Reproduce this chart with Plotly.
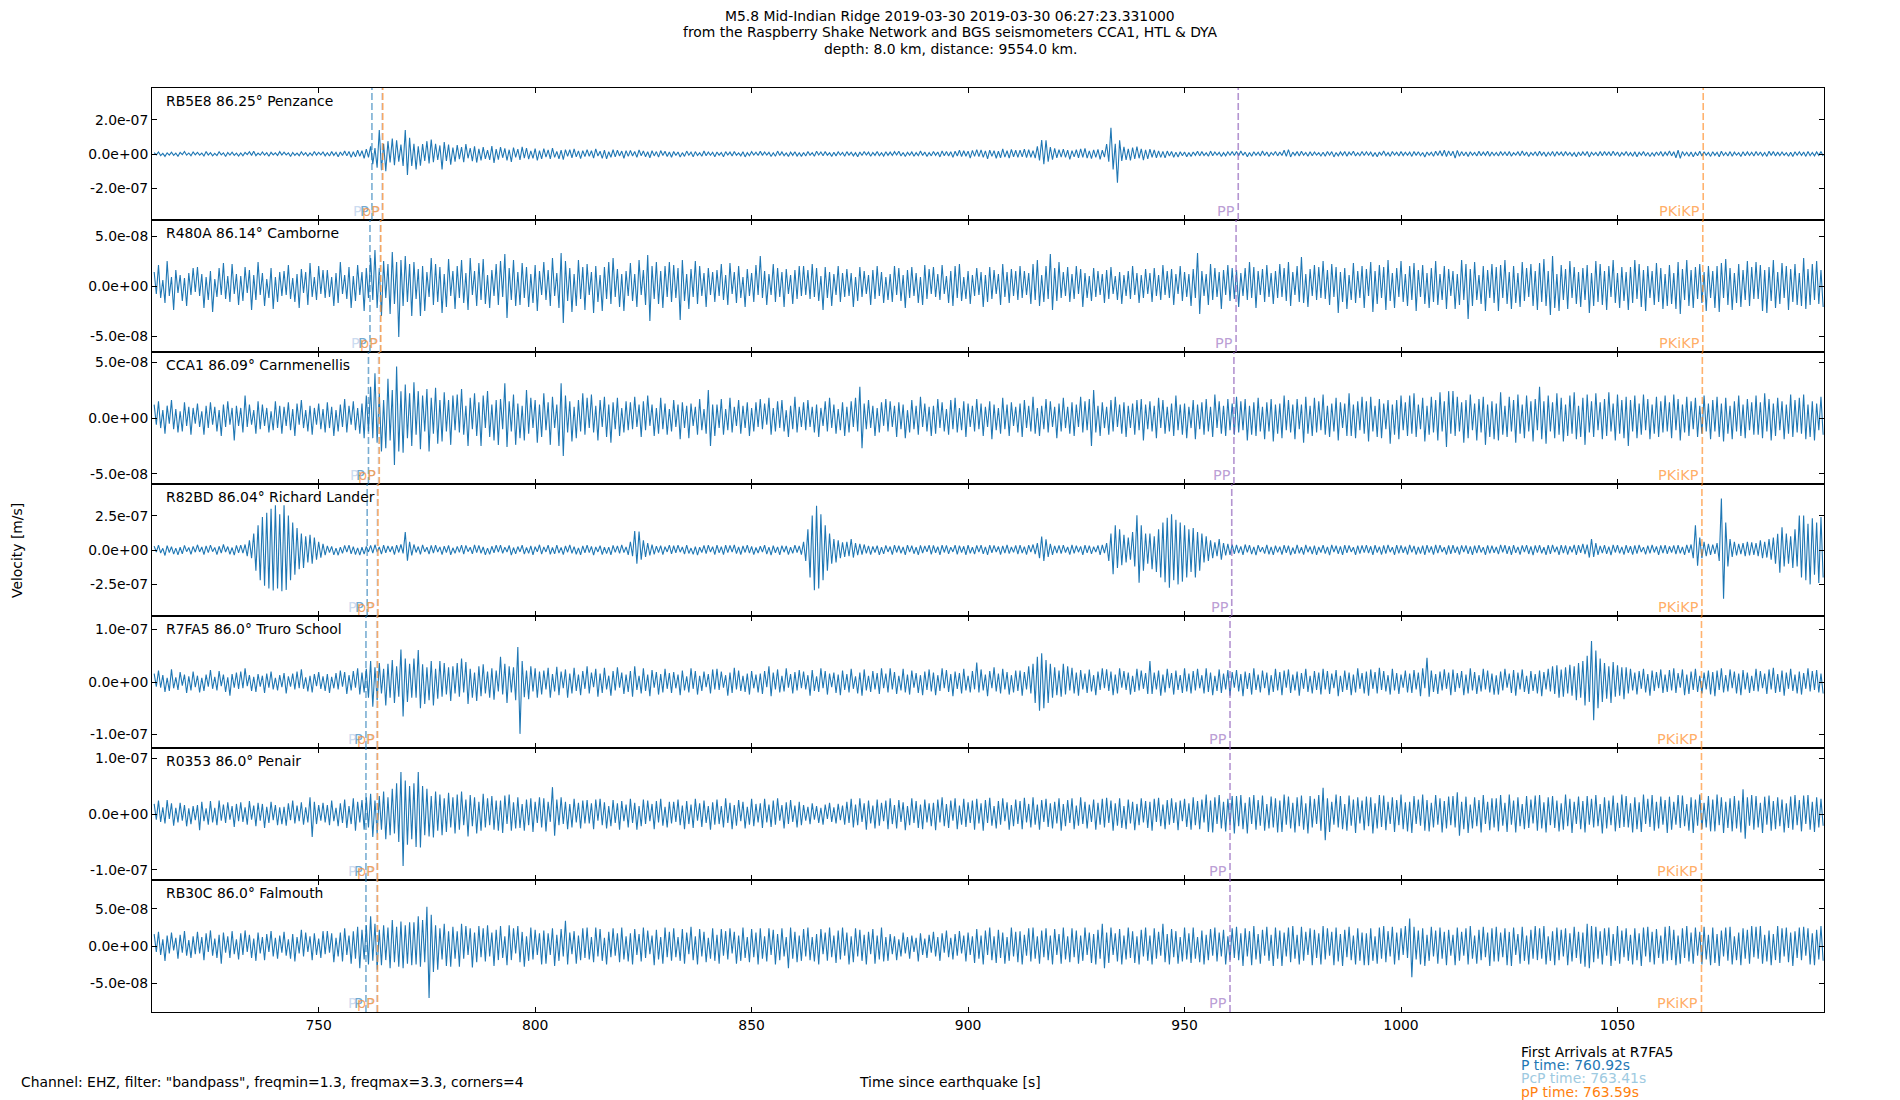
import plotly.graph_objects as go
from plotly.subplots import make_subplots

# ---------------- data ----------------
T0 = 712.0          # time of first sample [s]
DT = 0.5            # sample step [s]
NM = 1e-9           # values below are in nm/s

STATIONS = ["RB5E8 86.25° Penzance", "R480A 86.14° Camborne", "CCA1 86.09° Carnmenellis",
            "R82BD 86.04° Richard Lander", "R7FA5 86.0° Truro School", "R0353 86.0° Penair",
            "RB30C 86.0° Falmouth"]

RB5E8 = [
    8,-5,12,-9,4,-14,7,-6,11,-8,5,-13,9,-4,15,-7,6,-10,12,-5,
    10,-7,5,-12,14,-6,8,-11,4,-9,13,-5,7,-15,9,-6,11,-8,5,-12,
    6,-11,9,-4,13,-8,16,-10,5,-7,12,-6,8,-13,10,-5,7,-9,14,-6,
    11,-5,7,-14,9,-8,5,-10,13,-6,8,-12,6,-9,15,-7,10,-5,12,-11,
    7,-12,14,-8,10,-16,12,-9,18,-11,15,-20,13,-17,22,-14,19,-25,28,-20,
    45,-60,35,-80,140,-95,60,-100,75,-50,90,-65,80,-45,55,-70,140,-122,95,-70,
    60,-90,45,-68,58,-40,75,-55,85,-48,60,-35,50,-90,70,-40,55,-62,38,-45,
    52,-30,40,-48,58,-25,35,-42,45,-50,30,-38,40,-28,22,-35,46,-52,28,-33,
    40,-22,33,-38,25,-46,38,-20,28,-34,42,-24,35,-30,18,-26,32,-38,20,-28,
    32,-18,24,-29,35,-20,15,-28,22,-33,26,-14,25,-22,30,-17,18,-27,20,-15,
    26,-14,19,-24,30,-12,16,-26,22,-28,13,-19,25,-17,22,-12,17,-25,20,-14,
    21,-12,15,-20,24,-10,18,-16,13,-22,19,-11,14,-18,20,-9,16,-15,12,-19,
    15,-9,12,-18,8,-14,17,-7,11,-16,14,-9,7,-13,18,-10,12,-8,10,-16,
    12,-7,9,-16,14,-6,11,-12,15,-8,6,-11,13,-17,8,-10,14,-6,11,-9,
    16,-8,12,-6,10,-15,7,-13,17,-9,12,-10,6,-14,11,-8,13,-12,7,-14,
    9,-12,15,-7,8,-13,16,-6,12,-10,14,-8,7,-14,10,-11,13,-6,9,-13,
    14,-7,10,-11,8,-16,12,-9,15,-6,11,-13,9,-8,15,-10,7,-12,13,-8,
    11,-9,14,-6,16,-12,9,-15,10,-7,12,-13,8,-10,17,-9,11,-14,9,-11,
    15,-8,12,-17,18,-10,14,-11,13,-20,16,-12,22,-15,19,-13,17,-24,21,-14,
    26,-15,24,-20,18,-28,22,-14,20,-25,16,-22,30,-18,19,-24,27,-16,22,-20,
    23,-17,29,-21,25,-19,20,-24,45,-38,82,-60,80,-45,40,-33,33,-22,26,-18,
    28,-20,22,-31,20,-17,25,-22,30,-19,33,-24,18,-27,24,-20,27,-31,22,-18,
    58,-45,154,-90,60,-168,80,-40,42,-35,30,-38,38,-28,44,-25,30,-36,24,-28,
    28,-19,24,-22,18,-20,15,-23,17,-12,15,-19,11,-18,13,-10,12,-16,9,-14,
    12,-8,16,-11,14,-9,7,-13,17,-10,12,-6,10,-15,8,-11,13,-7,14,-9,
    15,-10,18,-8,11,-16,9,-13,13,-7,10,-12,18,-9,12,-14,9,-6,15,-11,
    12,-9,22,-14,26,-17,11,-8,14,-12,16,-7,9,-13,13,-10,12,-6,8,-12,
    10,-13,15,-7,14,-17,9,-11,12,-8,15,-13,11,-6,16,-12,8,-10,14,-9,
    13,-7,11,-14,9,-16,12,-8,17,-10,8,-14,15,-6,10,-12,15,-9,11,-7,
    11,-14,15,-8,13,-10,9,-17,12,-7,10,-13,16,-9,19,-12,22,-15,18,-11,
    16,-24,21,-13,14,-10,12,-15,13,-7,9,-12,16,-10,11,-8,16,-13,12,-9,
    9,-12,14,-7,12,-10,15,-13,8,-6,13,-11,17,-9,11,-14,9,-7,13,-12,
    16,-8,12,-15,10,-9,15,-13,14,-6,11,-12,14,-8,9,-11,8,-16,12,-10,
    12,-9,15,-17,10,-7,9,-12,14,-10,15,-8,13,-11,16,-9,12,-14,9,-7,
    14,-10,8,-13,13,-16,10,-7,14,-12,9,-15,7,-11,12,-9,15,-13,11,-8,
    17,-11,13,-22,22,-26,14,-9,10,-13,12,-16,9,-10,16,-12,13,-7,9,-14,
    13,-8,10,-16,16,-9,9,-12,14,-13,11,-7,8,-15,13,-10,12,-9,10,-12,
    15,-9,12,-11,9,-14,16,-8,14,-12,11,-10,12,-8,8,-13,10,-15,13,-7,
    13,-9,11,-14,15,-10,9,-11,12,-8,14,-11]

R480A = [
    14,-8,21,-12,6,-17,25,-10,9,-24,16,-7,11,-15,8,-20,13,-9,18,-6,
    19,-10,12,-22,9,-14,15,-26,7,-11,18,-9,23,-13,10,-16,22,-8,12,-19,
    10,-15,19,-7,16,-24,11,-14,24,-9,13,-20,7,-12,18,-23,9,-16,14,-10,
    15,-9,21,-13,8,-16,12,-22,17,-7,14,-19,23,-11,9,-14,20,-8,16,-12,
    16,-11,9,-20,13,-17,24,-8,11,-13,19,-22,10,-15,21,-9,14,-25,18,-12,
    28,-14,36,-22,18,-30,25,-12,22,-28,34,-18,24,-51,26,-20,30,-16,22,-30,
    24,-13,17,-30,20,-25,14,-11,28,-19,22,-16,19,-27,12,-21,27,-10,15,-23,
    20,-12,26,-17,13,-24,28,-9,15,-20,23,-14,27,-18,11,-22,16,-10,22,-19,
    25,-11,32,-32,18,-14,26,-20,14,-19,23,-12,19,-21,12,-17,21,-25,15,-9,
    24,-14,16,-20,28,-10,13,-22,33,-37,25,-15,18,-26,12,-20,26,-13,19,-24,
    22,-9,14,-27,20,-16,11,-25,19,-13,24,-18,28,-11,17,-21,12,-25,15,-10,
    23,-15,12,-21,26,-9,16,-19,31,-35,20,-13,24,-18,15,-22,20,-11,24,-16,
    21,-12,18,-34,26,-15,12,-23,17,-11,25,-18,20,-10,13,-21,18,-9,14,-16,
    16,-10,22,-14,11,-19,23,-8,14,-17,20,-12,9,-21,17,-10,13,-16,21,-9,
    30,-12,15,-19,12,-9,22,-16,18,-11,14,-21,17,-8,11,-18,16,-13,20,-10,
    20,-9,16,-13,22,-11,18,-15,10,-24,19,-12,14,-20,12,-9,20,-16,13,-11,
    17,-10,13,-21,9,-15,19,-11,15,-8,11,-19,16,-13,20,-10,14,-17,9,-14,
    12,-16,20,-9,18,-15,11,-22,16,-12,19,-10,13,-17,9,-19,21,-13,17,-8,
    19,-11,12,-14,21,-8,10,-17,15,-20,20,-12,22,-15,9,-13,15,-18,11,-10,
    18,-9,14,-21,11,-16,19,-13,16,-8,12,-19,22,-11,14,-17,17,-10,15,-14,
    20,-12,15,-9,13,-18,22,-14,26,-20,11,-16,20,-13,32,-24,18,-15,24,-12,
    14,-10,19,-16,12,-13,20,-8,17,-21,13,-12,10,-15,18,-11,15,-9,12,-17,
    16,-13,19,-8,10,-14,14,-18,11,-10,15,-13,20,-9,13,-17,11,-12,17,-8,
    13,-16,18,-10,11,-14,21,-9,15,-12,17,-19,12,-8,20,-15,14,-11,12,-20,
    17,-12,33,-28,15,-10,12,-19,22,-14,18,-11,14,-23,16,-9,21,-15,18,-13,
    16,-21,13,-10,18,-14,24,-12,19,-22,15,-9,17,-16,21,-11,13,-18,15,-12,
    22,-11,18,-15,24,-20,14,-9,20,-16,29,-17,12,-21,17,-10,21,-14,19,-12,
    25,-13,16,-19,22,-11,19,-27,14,-16,18,-23,11,-14,23,-17,15,-12,20,-22,
    17,-10,24,-26,15,-18,21,-12,19,-24,26,-15,13,-22,18,-11,25,-16,12,-20,
    20,-14,23,-25,16,-11,21,-18,13,-22,18,-16,25,-19,12,-14,20,-23,17,-10,
    15,-23,12,-19,26,-14,22,-33,17,-20,24,-14,11,-18,20,-25,16,-12,22,-17,
    19,-25,21,-12,26,-18,14,-23,20,-17,13,-21,24,-15,18,-11,22,-20,15,-24,
    23,-16,27,-20,15,-29,30,-22,12,-25,21,-14,17,-23,25,-12,19,-18,14,-21,
    18,-14,21,-27,13,-20,25,-16,22,-19,15,-24,20,-11,26,-17,13,-22,19,-15,
    14,-24,19,-17,26,-13,22,-21,16,-25,20,-12,15,-19,23,-16,18,-23,12,-20,
    21,-18,13,-23,24,-28,17,-14,26,-20,16,-22,19,-13,22,-17,14,-25,20,-12,
    15,-22,20,-26,23,-12,27,-19,18,-24,13,-17,22,-21,16,-14,25,-20,19,-13,
    24,-13,21,-25,16,-27,19,-15,26,-22,14,-18,23,-12,20,-24,17,-16,22,-19,
    13,-20,28,-23,17,-19,22,-14,25,-18,16,-21]

CCA1 = [
    12,-6,15,-9,7,-14,11,-5,16,-10,8,-13,6,-12,14,-7,10,-15,9,-5,
    13,-8,6,-15,11,-9,14,-6,10,-12,7,-16,12,-8,15,-6,9,-20,11,-7,
    9,-13,20,-8,12,-6,7,-14,15,-10,12,-7,9,-13,6,-11,15,-9,11,-14,
    10,-7,14,-11,8,-16,13,-6,16,-9,7,-12,11,-15,9,-6,13,-10,8,-13,
    14,-9,10,-16,7,-12,12,-8,17,-13,11,-6,15,-11,9,-14,13,-18,20,-12,
    28,-18,40,-22,22,-30,16,-27,35,-20,25,-42,46,-30,24,-31,30,-18,22,-25,
    32,-15,24,-28,20,-12,26,-30,18,-14,27,-23,16,-21,23,-12,16,-24,20,-11,
    21,-13,26,-15,11,-25,18,-10,22,-16,14,-25,20,-9,24,-17,12,-20,16,-24,
    17,-10,31,-26,15,-12,21,-24,13,-18,11,-20,25,-14,18,-9,16,-22,12,-17,
    22,-11,14,-24,19,-9,12,-25,31,-34,20,-13,15,-21,10,-18,16,-12,22,-15,
    18,-9,21,-13,11,-20,16,-8,19,-17,12,-22,14,-10,18,-16,9,-13,15,-11,
    14,-10,19,-8,12,-17,15,-11,20,-7,12,-16,9,-14,18,-10,13,-15,8,-12,
    16,-8,12,-19,14,-9,11,-18,13,-7,10,-15,17,-11,8,-14,25,-25,12,-16,
    12,-9,17,-15,8,-11,18,-13,10,-7,16,-14,11,-9,14,-16,9,-12,14,-8,
    17,-10,13,-6,18,-15,9,-12,15,-9,16,-12,7,-17,11,-10,19,-13,10,-8,
    14,-11,16,-8,10,-13,12,-17,9,-7,15,-12,18,-9,12,-14,8,-11,14,-16,
    10,-13,15,-8,18,-12,28,-27,13,-10,16,-9,11,-16,9,-13,14,-7,17,-12,
    15,-8,11,-17,14,-10,12,-18,7,-13,16,-10,11,-15,19,-8,13,-12,10,-16,
    11,-14,17,-9,14,-12,8,-15,16,-10,18,-13,9,-11,15,-17,13,-8,11,-12,
    17,-10,13,-16,10,-8,15,-19,12,-11,9,-14,18,-10,12,-16,14,-7,10,-13,
    13,-17,16,-9,11,-12,19,-14,9,-16,11,-10,17,-13,15,-8,10,-18,13,-12,
    18,-9,10,-14,14,-16,12,-8,19,-13,15,-11,17,-25,25,-13,11,-16,14,-9,
    10,-15,16,-12,19,-8,12,-14,14,-17,11,-9,13,-15,16,-11,17,-20,12,-10,
    15,-12,11,-18,18,-9,16,-14,10,-12,13,-16,20,-11,12,-15,13,-18,10,-9,
    16,-19,12,-10,14,-15,17,-12,10,-17,21,-9,15,-14,11,-16,17,-11,13,-15,
    19,-13,15,-11,17,-20,11,-15,14,-16,18,-12,10,-19,14,-12,17,-21,12,-14,
    13,-18,20,-11,16,-13,12,-19,17,-10,12,-22,19,-14,11,-16,18,-13,15,-11,
    21,-15,11,-17,13,-12,18,-20,14,-9,13,-16,22,-16,12,-18,15,-11,19,-14,
    15,-21,19,-12,11,-17,17,-18,13,-10,16,-23,12,-15,16,-19,20,-11,14,-16,
    20,-14,22,-17,12,-10,18,-21,11,-15,19,-13,16,-20,23,-12,15,-26,24,-14,
    24,-16,19,-12,14,-22,16,-18,21,-11,13,-20,17,-13,19,-24,12,-17,15,-19,
    13,-20,23,-15,11,-17,19,-12,16,-22,21,-14,12,-18,20,-12,15,-21,17,-11,
    28,-19,15,-23,20,-12,14,-18,22,-15,18,-21,12,-16,20,-14,23,-19,11,-17,
    18,-24,21,-13,15,-17,22,-11,14,-19,17,-16,23,-12,13,-20,21,-14,16,-18,
    19,-25,16,-12,20,-18,13,-15,21,-11,17,-19,12,-14,19,-17,15,-13,20,-12,
    14,-18,21,-11,17,-20,12,-13,19,-16,15,-10,18,-17,11,-14,20,-12,13,-19,
    16,-12,19,-17,13,-21,18,-14,11,-19,15,-12,20,-16,12,-18,17,-11,14,-15,
    20,-15,14,-18,22,-12,17,-20,13,-16,18,-11,15,-19,12,-14,21,-17,16,-13,
    18,-14,21,-19,12,-17,15,-20,13,-11,19,-15]

R82BD = [
    28,-15,35,-22,12,-40,32,-18,24,-30,14,-36,20,-28,34,-12,18,-32,26,-16,
    38,-14,22,-33,30,-19,36,-12,19,-34,27,-22,40,-15,25,-31,18,-38,33,-20,
    35,-22,40,-45,70,-60,120,-150,180,-220,240,-260,270,-280,300,-294,326,-280,260,-300,
    326,-290,250,-220,200,-180,160,-140,120,-130,100,-90,110,-100,90,-70,60,-55,45,-38,
    30,-18,26,-35,14,-38,21,-24,34,-16,36,-28,24,-33,15,-37,20,-30,26,-14,
    34,-22,38,-15,22,-30,36,-20,30,-14,27,-33,35,-18,40,-25,130,-78,60,-40,
    40,-18,25,-32,37,-14,20,-30,34,-22,36,-15,23,-33,28,-18,33,-35,16,-24,
    26,-17,36,-30,34,-12,20,-28,38,-19,33,-24,22,-35,14,-32,27,-20,35,-16,
    36,-24,21,-15,33,-37,18,-28,25,-14,35,-30,19,-24,30,-36,24,-13,38,-30,
    23,-14,36,-31,18,-28,35,-22,19,-33,30,-16,37,-24,24,-31,15,-36,30,-20,
    36,-19,26,-38,22,-14,31,-34,20,-26,21,-36,34,-17,30,-25,38,-19,22,-36,
    60,-45,137,-100,135,-70,70,-50,50,-40,40,-32,28,-18,32,-34,24,-14,36,-28,
    31,-20,35,-16,22,-30,36,-25,14,-32,25,-37,20,-18,33,-26,36,-15,24,-33,
    35,-21,24,-34,36,-19,33,-15,37,-26,22,-34,30,-18,36,-23,26,-34,18,-22,
    27,-15,36,-30,21,-38,31,-20,23,-35,32,-16,29,-33,20,-25,35,-18,30,-34,
    60,-80,150,-200,250,-292,321,-280,260,-220,180,-150,120,-100,80,-90,70,-60,55,-50,
    60,-45,80,-55,50,-38,45,-34,40,-25,30,-34,26,-18,32,-35,20,-28,34,-14,
    25,-33,36,-18,31,-24,22,-35,35,-15,32,-27,20,-36,33,-22,30,-14,36,-31,
    34,-20,24,-35,36,-18,33,-28,21,-14,35,-32,32,-18,27,-36,36,-24,20,-30,
    33,-16,35,-28,23,-36,36,-20,34,-15,26,-33,30,-22,37,-26,22,-17,34,-30,
    36,-22,25,-34,35,-16,40,-30,50,-60,98,-80,78,-50,45,-35,30,-22,34,-26,
    35,-18,22,-33,37,-24,31,-16,26,-36,36,-20,32,-28,24,-15,33,-36,37,-22,
    50,-80,120,-176,179,-130,150,-110,110,-90,90,-70,130,-120,252,-238,180,-150,120,-100,
    120,-140,100,-160,150,-200,200,-235,235,-274,260,-220,220,-250,200,-230,180,-200,150,-160,
    160,-200,130,-150,120,-90,100,-80,70,-60,55,-45,80,-70,50,-40,45,-35,40,-28,
    38,-22,26,-35,40,-18,36,-30,23,-38,35,-14,21,-26,37,-32,22,-36,32,-17,
    24,-33,36,-20,31,-37,18,-28,37,-24,20,-33,38,-16,25,-30,32,-36,22,-18,
    35,-26,22,-37,37,-15,31,-28,26,-36,36,-21,33,-14,20,-35,31,-27,34,-19,
    36,-22,27,-35,35,-18,24,-33,33,-26,37,-16,21,-35,35,-24,34,-20,25,-33,
    38,-17,30,-34,22,-26,31,-36,35,-19,26,-33,37,-22,36,-15,20,-34,34,-28,
    35,-21,24,-33,33,-16,34,-28,27,-36,31,-22,36,-18,21,-35,34,-24,32,-20,
    22,-30,37,-17,35,-28,28,-36,36,-21,23,-34,34,-16,35,-29,26,-37,33,-19,
    36,-24,20,-35,35,-28,37,-16,24,-36,36,-22,34,-33,27,-17,38,-35,35,-20,
    45,-30,40,-55,80,-50,50,-35,30,-22,36,-28,24,-37,37,-18,35,-24,23,-33,
    36,-20,28,-33,33,-26,37,-15,21,-32,32,-24,38,-18,26,-36,34,-22,35,-28,
    27,-18,33,-30,36,-24,22,-35,38,-20,40,-60,180,-115,90,-60,60,-45,45,-35,
    40,-28,50,-80,375,-355,200,-120,80,-50,60,-40,45,-30,50,-45,60,-40,55,-35,
    50,-45,70,-60,60,-55,80,-70,90,-100,118,-165,165,-120,120,-100,100,-130,150,-120,
    250,-200,250,-220,190,-250,230,-180,200,-240,240,-200]

R7FA5 = [
    16,-9,22,-11,13,-19,8,-17,24,-12,9,-15,19,-7,14,-21,11,-16,20,-10,
    12,-20,8,-17,14,-9,23,-13,10,-16,21,-8,14,-19,9,-26,15,-11,18,-13,
    20,-12,26,-8,13,-17,10,-19,15,-9,12,-21,16,-11,20,-14,8,-16,13,-10,
    17,-22,11,-9,16,-14,20,-12,24,-13,9,-18,12,-20,15,-8,19,-13,11,-17,
    15,-21,10,-12,17,-14,22,-9,19,-23,13,-16,21,-11,26,-24,18,-20,25,-30,
    40,-47,28,-35,36,-22,25,-45,35,-30,42,-40,30,-28,62,-66,45,-38,35,-30,
    45,-30,61,-50,34,-42,28,-35,40,-45,25,-32,40,-28,36,-24,28,-36,30,-22,
    36,-28,45,-20,38,-42,25,-30,18,-36,30,-27,34,-22,20,-30,26,-34,22,-18,
    48,-24,35,-40,30,-20,28,-35,67,-99,40,-29,22,-33,30,-18,26,-30,20,-24,
    22,-14,27,-30,15,-18,29,-25,20,-12,24,-30,16,-22,27,-17,14,-25,21,-13,
    30,-22,18,-10,25,-28,16,-21,27,-14,12,-26,21,-16,28,-11,18,-23,14,-19,
    21,-28,30,-15,12,-22,26,-17,14,-27,23,-11,19,-24,15,-20,25,-13,17,-21,
    19,-12,14,-25,22,-16,11,-20,26,-13,21,-24,12,-17,20,-10,15,-22,24,-14,
    25,-15,20,-11,13,-26,18,-21,27,-14,22,-17,12,-19,16,-24,21,-12,14,-20,
    16,-23,21,-10,30,-27,18,-14,24,-20,12,-18,26,-11,15,-22,19,-16,23,-12,
    20,-14,13,-26,23,-17,11,-19,26,-12,21,-24,16,-10,18,-21,14,-25,22,-15,
    15,-20,25,-13,11,-22,18,-26,24,-16,12,-19,21,-14,17,-23,26,-12,16,-20,
    26,-14,19,-23,12,-16,25,-20,14,-24,22,-11,17,-21,13,-25,20,-15,24,-18,
    18,-25,13,-17,26,-12,23,-19,15,-27,20,-13,17,-22,25,-16,12,-20,21,-14,
    37,-20,24,-16,14,-27,21,-12,28,-18,16,-22,25,-14,19,-24,13,-20,22,-17,
    22,-26,19,-14,30,-22,35,-40,48,-55,55,-50,42,-40,35,-30,28,-25,22,-28,
    35,-24,30,-16,27,-22,18,-26,23,-14,16,-21,24,-18,13,-25,20,-15,26,-12,
    24,-17,20,-25,14,-22,26,-11,21,-15,18,-24,12,-19,25,-16,22,-13,17,-23,
    40,-23,18,-14,22,-26,14,-20,25,-12,17,-24,22,-15,13,-21,26,-18,16,-22,
    21,-16,25,-12,13,-22,26,-19,18,-25,12,-17,24,-21,16,-14,23,-26,19,-11,
    23,-18,15,-27,20,-13,17,-24,26,-15,14,-20,22,-12,18,-25,13,-19,25,-16,
    19,-25,22,-11,24,-21,14,-16,20,-26,17,-13,25,-19,12,-22,21,-15,18,-24,
    25,-14,21,-23,16,-12,23,-27,12,-19,22,-15,18,-25,14,-20,26,-13,17,-22,
    20,-26,24,-13,19,-22,27,-15,21,-18,13,-24,25,-16,17,-23,14,-11,22,-20,
    16,-21,23,-14,18,-27,26,-12,46,-28,22,-19,15,-23,20,-16,24,-13,18,-25,
    24,-19,17,-12,21,-25,14,-22,26,-16,19,-23,13,-18,25,-14,22,-20,16,-24,
    13,-24,20,-16,25,-11,16,-21,23,-26,18,-14,24,-19,12,-23,21,-17,15,-22,
    22,-27,19,-14,25,-18,30,-23,32,-30,24,-28,28,-22,33,-26,30,-35,36,-30,
    40,-45,50,-38,78,-73,60,-50,45,-38,36,-32,30,-40,38,-28,32,-26,28,-33,
    28,-22,25,-16,18,-24,21,-13,25,-20,15,-26,22,-17,19,-12,24,-21,14,-19,
    23,-16,26,-21,17,-11,24,-25,14,-23,20,-15,25,-19,12,-22,18,-14,22,-24,
    19,-27,22,-15,26,-20,13,-18,24,-12,20,-22,16,-25,23,-14,18,-21,12,-17,
    25,-18,21,-12,16,-23,24,-14,27,-21,15,-19,22,-26,18,-13,25,-17,14,-22,
    20,-24,17,-13,26,-18,21,-15,23,-20,16,-22]

R0353 = [
    18,-10,24,-14,12,-17,25,-9,19,-21,11,-15,20,-12,16,-22,10,-18,14,-11,
    16,-29,22,-13,10,-19,23,-15,11,-20,24,-12,17,-16,21,-10,14,-23,18,-13,
    21,-14,12,-19,23,-10,15,-22,20,-12,18,-25,13,-16,22,-11,16,-20,12,-18,
    13,-21,19,-11,24,-17,15,-13,21,-19,12,-15,30,-41,22,-18,16,-12,20,-15,
    16,-20,24,-13,11,-22,19,-16,26,-25,14,-18,28,-30,22,-15,25,-28,30,-24,
    36,-41,24,-35,32,-28,40,-45,30,-38,45,-35,55,-50,75,-93,60,-55,50,-45,
    55,-59,75,-60,50,-38,45,-40,32,-42,40,-30,35,-38,28,-32,38,-24,30,-35,
    35,-28,40,-20,26,-40,34,-22,30,-35,22,-30,36,-24,28,-20,32,-28,24,-30,
    24,-34,33,-18,35,-30,21,-26,30,-25,18,-30,26,-20,28,-32,22,-16,30,-24,
    28,-31,22,-14,48,-39,26,-20,30,-18,22,-27,18,-24,27,-15,20,-26,24,-17,
    25,-17,19,-27,26,-12,27,-20,21,-26,14,-22,25,-16,19,-28,23,-13,17,-24,
    27,-16,20,-28,14,-22,26,-18,24,-13,18,-27,23,-15,27,-21,13,-24,22,-17,
    22,-14,26,-20,15,-27,23,-18,17,-25,27,-12,19,-23,24,-16,14,-28,21,-19,
    26,-18,14,-24,28,-16,20,-27,16,-21,25,-13,22,-26,13,-19,27,-22,18,-15,
    19,-25,27,-15,17,-23,24,-19,28,-12,16,-26,21,-18,25,-14,15,-24,22,-20,
    16,-12,13,-18,19,-10,14,-16,11,-19,17,-9,20,-14,12,-17,18,-11,15,-19,
    22,-16,27,-24,17,-20,28,-14,19,-28,24,-17,15,-26,26,-21,20,-13,24,-27,
    28,-18,16,-26,25,-14,21,-29,14,-20,28,-16,23,-25,17,-27,26,-15,19,-22,
    20,-29,26,-15,30,-22,18,-25,24,-12,28,-27,15,-19,27,-23,21,-16,24,-28,
    27,-17,19,-30,25,-16,29,-21,14,-26,23,-19,28,-13,21,-28,16,-22,26,-18,
    23,-27,29,-15,18,-24,30,-19,17,-28,25,-14,27,-23,19,-26,22,-17,28,-30,
    18,-22,25,-16,28,-27,15,-21,30,-18,22,-26,17,-14,26,-28,20,-19,27,-24,
    29,-16,24,-30,19,-21,28,-25,14,-27,26,-17,22,-29,18,-20,28,-15,23,-25,
    22,-30,27,-14,29,-22,17,-27,25,-19,28,-16,21,-29,24,-13,27,-23,19,-28,
    30,-20,23,-27,26,-15,35,-32,24,-33,30,-18,34,-26,22,-31,27,-20,32,-35,
    32,-22,34,-27,20,-35,30,-18,34,-28,25,-21,33,-30,18,-26,31,-24,28,-33,
    24,-32,35,-19,31,-26,20,-33,30,-22,33,-28,19,-35,32,-24,27,-18,34,-30,
    47,-47,28,-32,22,-19,35,-24,32,-27,18,-30,33,-21,26,-34,30,-17,24,-29,
    31,-22,30,-35,19,-26,34,-23,33,-29,22,-18,30,-32,25,-20,35,-27,21,-31,
    22,-34,32,-18,26,-21,35,-30,25,-31,20,-24,34,-19,28,-33,23,-26,31,-20,
    32,-24,39,-39,22,-27,31,-34,17,-26,30,-22,25,-33,34,-18,22,-29,28,-24,
    28,-31,34,-21,20,-32,35,-19,24,-33,30,-22,18,-27,32,-25,26,-17,33,-30,
    34,-26,21,-33,30,-20,32,-25,24,-31,19,-28,35,-22,27,-34,22,-18,31,-27,
    23,-33,32,-19,27,-24,34,-22,18,-35,30,-26,24,-20,33,-31,20,-25,35,-23,
    32,-24,19,-33,30,-27,21,-32,35,-18,27,-23,34,-30,22,-26,31,-19,25,-34,
    31,-28,22,-19,34,-25,33,-22,18,-30,30,-34,26,-21,35,-27,20,-24,32,-31,
    26,-31,35,-20,30,-34,22,-25,28,-31,32,-26,24,-33,44,-44,30,-21,34,-28,
    32,-24,20,-34,31,-19,33,-30,23,-27,30,-22,26,-33,19,-25,31,-28,34,-20,
    25,-31,33,-18,34,-28,22,-32,30,-24,27,-21]

RB30C = [
    16,-8,19,-12,9,-20,14,-10,18,-6,11,-17,15,-9,20,-13,8,-16,13,-11,
    19,-10,12,-19,17,-8,21,-13,10,-16,15,-24,18,-9,13,-16,20,-11,9,-18,
    17,-12,21,-8,15,-16,10,-20,18,-10,12,-19,16,-8,20,-14,11,-17,14,-9,
    19,-13,9,-17,16,-21,12,-10,22,-14,18,-8,13,-19,17,-12,10,-16,20,-11,
    20,-9,17,-22,11,-14,18,-21,24,-12,14,-24,20,-17,26,-30,22,-18,28,-25,
    40,-20,30,-32,22,-26,28,-19,25,-30,35,-22,26,-28,33,-30,28,-24,32,-26,
    32,-25,40,-28,35,-22,53,-70,42,-35,28,-32,24,-18,30,-27,20,-28,26,-17,
    20,-28,30,-17,27,-12,24,-29,18,-22,27,-15,24,-21,28,-14,18,-27,22,-19,
    27,-16,13,-26,28,-19,24,-10,27,-22,19,-28,13,-20,25,-18,22,-12,17,-25,
    21,-24,17,-12,24,-27,15,-20,23,-14,34,-25,18,-11,20,-24,14,-19,24,-16,
    25,-18,12,-22,25,-14,23,-20,11,-25,19,-15,24,-13,17,-22,25,-18,13,-21,
    17,-25,23,-12,16,-21,25,-16,21,-11,14,-26,22,-18,12,-24,25,-15,19,-20,
    24,-15,12,-20,23,-24,18,-11,26,-19,13,-25,23,-14,19,-22,11,-17,24,-20,
    15,-24,23,-13,20,-18,24,-10,19,-24,14,-20,25,-16,12,-22,23,-15,18,-25,
    24,-17,13,-21,24,-12,22,-25,16,-19,24,-14,12,-30,25,-17,19,-22,14,-20,
    23,-14,25,-19,12,-21,16,-25,23,-11,18,-20,25,-15,14,-23,21,-18,25,-13,
    18,-25,13,-22,24,-14,22,-20,15,-25,19,-11,23,-24,14,-18,25,-21,12,-20,
    16,-11,13,-19,9,-14,18,-10,12,-17,14,-8,11,-21,17,-12,10,-16,15,-9,
    19,-14,12,-20,17,-9,21,-15,11,-18,16,-13,20,-10,14,-21,18,-12,13,-23,
    23,-17,14,-25,21,-12,25,-19,13,-23,22,-16,18,-24,12,-20,25,-14,19,-22,
    20,-25,15,-13,24,-21,25,-17,13,-24,21,-15,24,-19,14,-25,23,-12,16,-24,
    25,-18,13,-22,24,-15,21,-24,14,-20,25,-12,18,-23,16,-25,22,-17,30,-30,
    18,-23,25,-12,17,-21,23,-25,14,-18,25,-16,20,-23,13,-25,22,-14,25,-20,
    14,-25,24,-17,19,-13,30,-22,16,-25,23,-15,20,-24,12,-21,25,-18,17,-23,
    25,-17,12,-22,21,-25,15,-19,23,-13,25,-21,18,-14,22,-25,13,-19,24,-16,
    26,-19,17,-27,24,-14,20,-26,27,-18,16,-24,22,-13,26,-20,15,-27,25,-17,
    21,-27,18,-14,25,-22,27,-17,15,-25,26,-20,19,-12,24,-26,22,-16,17,-25,
    27,-18,24,-13,19,-26,25,-21,16,-27,22,-15,26,-19,14,-25,24,-20,18,-26,
    17,-26,24,-20,13,-24,25,-17,27,-22,20,-14,26,-25,18,-19,24,-12,27,-16,
    37,-42,26,-18,21,-25,24,-27,15,-20,26,-14,21,-24,25,-17,19,-26,22,-13,
    15,-26,25,-20,19,-13,24,-25,27,-17,14,-24,22,-19,26,-15,18,-27,24,-21,
    26,-21,18,-15,24,-26,19,-27,25,-12,16,-24,26,-20,14,-25,22,-17,27,-19,
    24,-17,27,-25,13,-20,20,-26,25,-19,22,-14,24,-26,17,-21,26,-16,19,-24,
    18,-28,30,-30,27,-22,26,-17,20,-25,24,-13,25,-27,16,-20,27,-24,21,-15,
    24,-20,15,-25,24,-19,17,-27,25,-14,26,-22,19,-25,23,-16,14,-24,26,-20,
    27,-19,22,-26,14,-24,24,-16,27,-21,18,-24,25,-13,19,-25,26,-18,15,-26,
    25,-23,16,-27,21,-14,25,-20,26,-25,13,-19,18,-26,24,-17,22,-24,27,-15,
    26,-17,27,-24,15,-21,21,-26,16,-19,27,-23,24,-14,25,-22,18,-27,20,-16,
    25,-19,26,-13,24,-25,17,-26,22,-18,27,-20]

TRACES = [RB5E8, R480A, CCA1, R82BD, R7FA5, R0353, RB30C]

Y_LIMITS = [3.86e-7, 6.6e-8, 5.9e-8, 4.8e-7, 1.26e-7, 1.18e-7, 8.9e-8]
Y_TICK_VALUES = [[-2e-7, 0, 2e-7], [-5e-8, 0, 5e-8], [-5e-8, 0, 5e-8], [-2.5e-7, 0, 2.5e-7],
                 [-1e-7, 0, 1e-7], [-1e-7, 0, 1e-7], [-5e-8, 0, 5e-8]]
Y_TICK_TEXT = [["-2.0e-07", "0.0e+00", "2.0e-07"], ["-5.0e-08", "0.0e+00", "5.0e-08"],
               ["-5.0e-08", "0.0e+00", "5.0e-08"], ["-2.5e-07", "0.0e+00", "2.5e-07"],
               ["-1.0e-07", "0.0e+00", "1.0e-07"], ["-1.0e-07", "0.0e+00", "1.0e-07"],
               ["-5.0e-08", "0.0e+00", "5.0e-08"]]
X_RANGE = [711.5, 1097.7]
X_TICKS = [750, 800, 850, 900, 950, 1000, 1050]

PHASES = ["P", "PcP", "pP", "PP", "PKiKP"]
P_TIMES = [762.3, 761.85, 761.5, 761.2, 760.92, 760.92, 760.92]
PCP_TIMES = [764.62, 764.17, 763.82, 763.52, 763.41, 763.41, 763.41]
PP_SMALL_TIMES = [764.8, 764.35, 764.0, 763.7, 763.59, 763.59, 763.59]   # pP
PP_TIMES = [962.4, 961.9, 961.4, 960.9, 960.5, 960.5, 960.5]
PKIKP_TIMES = [1069.8, 1069.7, 1069.6, 1069.5, 1069.4, 1069.4, 1069.4]
PHASE_TIMES = [P_TIMES, PCP_TIMES, PP_SMALL_TIMES, PP_TIMES, PKIKP_TIMES]
PHASE_RGB = [(31, 119, 180), (174, 199, 232), (255, 127, 14), (148, 103, 189), (255, 127, 14)]

TITLE_LINES = ["M5.8 Mid-Indian Ridge 2019-03-30 2019-03-30 06:27:23.331000",
               "from the Raspberry Shake Network and BGS seismometers CCA1, HTL & DYA",
               "depth: 8.0 km, distance: 9554.0 km."]
ARRIVAL_LINES = ["First Arrivals at R7FA5", "P time: 760.92s", "PcP time: 763.41s", "pP time: 763.59s"]
ARRIVAL_COLORS = ["#000000", "#1f77b4", "#9ecae1", "#ff7f0e"]
CHANNEL_TEXT = 'Channel: EHZ, filter: "bandpass", freqmin=1.3, freqmax=3.3, corners=4'

# ---------------- figure ----------------
FONT = "DejaVu Sans"
FS = 13.9
N = len(TRACES)
W, H = 1900, 1100
L, R, T, B = 152, 76, 88, 88
PH = H - T - B


def py(ypx):
    return (H - B - ypx) / PH


def px(xpx):
    return (xpx - L) / (W - L - R)


fig = make_subplots(rows=N, cols=1, shared_xaxes=True, vertical_spacing=0)

for i, vals in enumerate(TRACES):
    r = i + 1
    fig.add_trace(go.Scatter(x=[T0 + DT * k for k in range(len(vals))],
                             y=[v * NM for v in vals], mode="lines",
                             line=dict(color="#1f77b4", width=1.1), hoverinfo="skip"),
                  row=r, col=1)
    for p, times in enumerate(PHASE_TIMES):
        cr, cg, cb = PHASE_RGB[p]
        alpha = 0.7 if PHASES[p] == "PP" else 0.6
        fig.add_vline(x=times[i], row=r, col=1,
                      line=dict(color=f"rgba({cr},{cg},{cb},{alpha})", width=1.6, dash="7px,3px"))
    sfx = "" if r == 1 else str(r)
    for p, times in enumerate(PHASE_TIMES):
        cr, cg, cb = PHASE_RGB[p]
        fig.add_annotation(x=times[i], xref="x" + sfx, y=0, yref=f"y{sfx} domain",
                           text=PHASES[p], showarrow=False, xanchor="right", yanchor="bottom",
                           xshift=-1, yshift=-1,
                           font=dict(family=FONT, size=14.5, color=f"rgba({cr},{cg},{cb},0.65)"))
    fig.add_annotation(x=0, xref=f"x{sfx} domain", y=1, yref=f"y{sfx} domain",
                       text=STATIONS[i], showarrow=False, xanchor="left", yanchor="top",
                       xshift=12, yshift=-3, font=dict(family=FONT, size=FS, color="black"))

    fig.update_xaxes(row=r, col=1, range=X_RANGE, tickvals=X_TICKS,
                     ticktext=[str(v) for v in X_TICKS], showticklabels=(r == N),
                     ticks="inside", ticklen=5, tickwidth=1, tickcolor="black",
                     showline=True, linecolor="black", linewidth=1, mirror="ticks",
                     showgrid=False, zeroline=False,
                     tickfont=dict(family=FONT, size=FS, color="black"))
    fig.update_yaxes(row=r, col=1, range=[-Y_LIMITS[i], Y_LIMITS[i]],
                     tickvals=Y_TICK_VALUES[i], ticktext=Y_TICK_TEXT[i],
                     ticks="inside", ticklen=5, tickwidth=1, tickcolor="black",
                     showline=True, linecolor="black", linewidth=1, mirror="ticks",
                     showgrid=False, zeroline=False,
                     tickfont=dict(family=FONT, size=FS, color="black"))

for line, ypix in zip(TITLE_LINES, [16, 32.5, 49]):
    fig.add_annotation(x=px(950), xref="paper", y=py(ypix), yref="paper", text=line,
                       showarrow=False, xanchor="center", yanchor="middle",
                       font=dict(family=FONT, size=FS, color="black"))

fig.add_annotation(x=px(17), xref="paper", y=py(551), yref="paper", text="Velocity [m/s]",
                   textangle=-90, showarrow=False, xanchor="center", yanchor="middle",
                   font=dict(family=FONT, size=FS, color="black"))
fig.add_annotation(x=px(19), xref="paper", y=py(1081.5), yref="paper", text=CHANNEL_TEXT,
                   showarrow=False, xanchor="left", yanchor="middle",
                   font=dict(family=FONT, size=FS, color="black"))
fig.add_annotation(x=px(950), xref="paper", y=py(1081.5), yref="paper",
                   text="Time since earthquake [s]", showarrow=False,
                   xanchor="center", yanchor="middle",
                   font=dict(family=FONT, size=FS, color="black"))
for line, col, ypix in zip(ARRIVAL_LINES, ARRIVAL_COLORS, [1051.7, 1065, 1078.3, 1091.7]):
    fig.add_annotation(x=px(1519), xref="paper", y=py(ypix), yref="paper", text=line,
                       showarrow=False, xanchor="left", yanchor="middle",
                       font=dict(family=FONT, size=FS, color=col))

fig.update_layout(width=W, height=H, margin=dict(l=L, r=R, t=T, b=B),
                  plot_bgcolor="white", paper_bgcolor="white", showlegend=False,
                  font=dict(family=FONT, size=FS, color="black"))

fig.write_html("out.html", config={"displayModeBar": False},
               post_script="document.body.style.margin='0';document.body.style.overflow='hidden';")
